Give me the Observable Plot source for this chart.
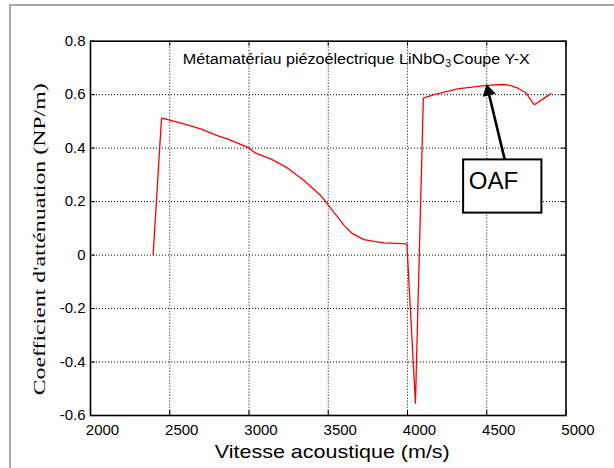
<!DOCTYPE html>
<html>
<head>
<meta charset="utf-8">
<script src="https://cdn.jsdelivr.net/npm/d3@7"></script>
<script src="https://cdn.jsdelivr.net/npm/@observablehq/plot@0.6"></script>
<style>
  html, body { margin: 0; padding: 0; background: #fff; }
  #wrap { position: relative; width: 614px; height: 468px; overflow: hidden; }
  #border { position: absolute; left: 9px; top: 4px; width: 700px; height: 600px; border: 2px solid #a8a8a8; box-sizing: border-box; }
  #chart { position: absolute; left: 0; top: 0; }
</style>
</head>
<body>
<div id="wrap"><div id="border"></div><div id="chart"></div></div>
<script>
// Data
const velocity = [2395, 2448, 2494, 2589, 2695, 2800, 2863, 2947, 2999, 3042, 3137, 3242, 3347, 3452, 3536, 3600, 3653, 3726, 3789, 3852, 3996, 4050, 4100, 4168, 4316, 4484, 4589, 4632, 4694, 4747, 4800, 4905];
const attenuation = [0, 0.512, 0.506, 0.491, 0.472, 0.447, 0.435, 0.414, 0.401, 0.381, 0.360, 0.326, 0.279, 0.223, 0.160, 0.111, 0.080, 0.058, 0.051, 0.046, 0.042, -0.554, 0.587, 0.600, 0.622, 0.634, 0.638, 0.637, 0.625, 0.607, 0.562, 0.604];
const xTicks = [2000, 2500, 3000, 3500, 4000, 4500, 5000];
const yTicks = [-0.6, -0.4, -0.2, 0, 0.2, 0.4, 0.6, 0.8];
const xLabel = "Vitesse acoustique (m/s)";
const yLabel = "Coefficient d'atténuation (NP/m)";
const titleMain = "Métamatériau piézoélectrique LiNbO";
const titleSub = "3";
const titleEnd = "Coupe Y-X";
const titleAt = {x: 4235, y: 0.731};
const titleEndAt = {x: 4286, y: 0.731};
const boxLabel = "OAF";
const box = {x1: 4354, x2: 4848, y1: 0.157, y2: 0.356};
const boxTextAt = {x: 4387, y: 0.277};
const arrowFrom = {x: 4614, y: 0.356};
const arrowTo = {x: 4501, y: 0.634};

const data = velocity.map((v, i) => ({v, a: attenuation[i]}));

const W = 614, H = 468;
const mL = 90, mR = 48.5, mT = 40.7, mB = 53;
const innerH = H - mT - mB, innerW = W - mL - mR;
const tl = 5;

// arrow head: filled triangle placed just behind the tip
const headFrac = 0.08;
const head = {x: arrowTo.x + headFrac * (arrowFrom.x - arrowTo.x), y: arrowTo.y + headFrac * (arrowFrom.y - arrowTo.y)};
const shaftEnd = {x: arrowTo.x + 0.12 * (arrowFrom.x - arrowTo.x), y: arrowTo.y + 0.12 * (arrowFrom.y - arrowTo.y)};

const yFmt = d => d === 0 ? "0" : d3.format(".1f")(d).replace("−", "-");

const chart = Plot.plot({
  width: W, height: H,
  marginLeft: mL, marginRight: mR, marginTop: mT, marginBottom: mB,
  style: {fontFamily: "'Liberation Sans', Arial, sans-serif", fontSize: "15px", color: "black", background: "transparent"},
  x: {domain: [2000, 5000]},
  y: {domain: [-0.6, 0.8]},
  marks: [
    Plot.ruleX(xTicks.slice(1, -1), {x: d => d, stroke: "black", strokeWidth: 1, strokeDasharray: "1,2"}),
    Plot.ruleY(yTicks.slice(1, -1), {y: d => d, stroke: "black", strokeWidth: 1, strokeDasharray: "1,2"}),
    Plot.ruleX(xTicks, {x: d => d, insetTop: innerH - tl, stroke: "black"}),
    Plot.ruleX(xTicks, {x: d => d, insetBottom: innerH - tl, stroke: "black"}),
    Plot.ruleY(yTicks, {y: d => d, insetRight: innerW - tl, stroke: "black"}),
    Plot.ruleY(yTicks, {y: d => d, insetLeft: innerW - tl, stroke: "black"}),
    Plot.axisX(xTicks, {tickSize: 0, tickPadding: 9, dx: 12, label: null, fontSize: 15, tickFormat: d => String(d)}),
    Plot.axisY(yTicks, {tickSize: 0, tickPadding: 5, label: null, fontSize: 15, tickFormat: yFmt}),
    Plot.line(data, {x: "v", y: "a", stroke: "#ff0000", strokeWidth: 1.3}),
    Plot.frame({stroke: "black", strokeWidth: 1.6}),
    Plot.text([titleMain], {x: titleAt.x, y: titleAt.y, text: d => d, textAnchor: "end", fontSize: 14}),
    Plot.text([titleSub], {x: titleAt.x, y: titleAt.y, text: d => d, textAnchor: "start", fontSize: 10.5, dx: 0.5, dy: 4}),
    Plot.text([titleEnd], {x: titleEndAt.x, y: titleEndAt.y, text: d => d, textAnchor: "start", fontSize: 14}),
    Plot.rect([box], {x1: "x1", x2: "x2", y1: "y1", y2: "y2", fill: "white", stroke: "black", strokeWidth: 2}),
    Plot.text([boxLabel], {x: boxTextAt.x, y: boxTextAt.y, text: d => d, textAnchor: "start", fontSize: 24}),
    Plot.link([{a: arrowFrom, b: shaftEnd}], {x1: d => d.a.x, y1: d => d.a.y, x2: d => d.b.x, y2: d => d.b.y, stroke: "black", strokeWidth: 2.6}),
    Plot.dot([head], {x: "x", y: "y", symbol: "triangle", r: 4.3, fill: "black", stroke: "black", strokeWidth: 1, rotate: -13.7}),
    Plot.text([xLabel], {frameAnchor: "bottom", text: d => d, dx: 4, dy: 42, fontSize: 19}),
    Plot.text([yLabel], {frameAnchor: "left", textAnchor: "middle", text: d => d, rotate: -90, dx: -51, dy: 11, fontSize: 17.5, fontFamily: "'Liberation Serif', 'Times New Roman', serif"})
  ]
});
const stretch = {[xLabel]: 235, [yLabel]: 312, [titleMain]: 262, [titleEnd]: 77};
d3.select(chart).selectAll("text").each(function() {
  const t = this.textContent;
  if (stretch[t]) d3.select(this).attr("textLength", stretch[t]).attr("lengthAdjust", "spacingAndGlyphs");
});
document.getElementById("chart").appendChild(chart);
</script>
</body>
</html>
